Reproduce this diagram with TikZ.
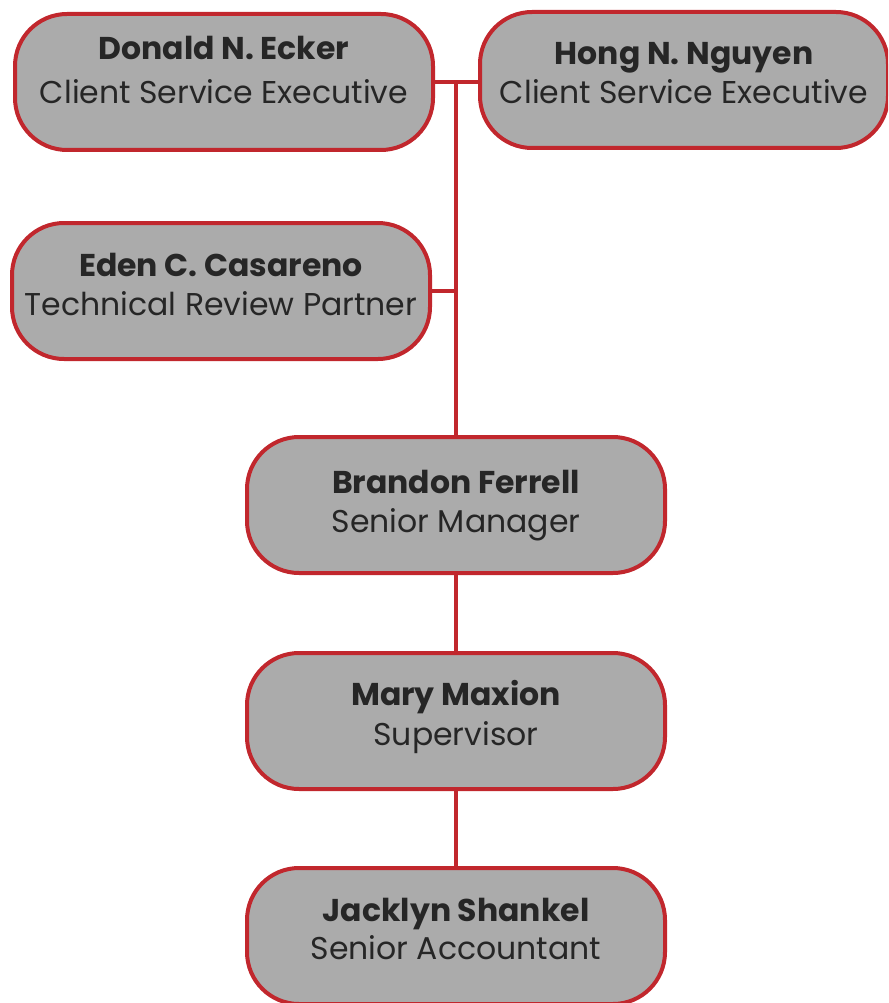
\documentclass[tikz,border=0pt]{standalone}
\usepackage{fontspec}
\setmainfont{Poppins}
\definecolor{boxred}{HTML}{C1272D}
\definecolor{boxgray}{HTML}{ABABAB}
\definecolor{txt}{HTML}{262626}
\newcommand{\who}[4]{\raisebox{#1}[\height][\depth]{\begin{tabular}{@{}c@{}}\textbf{#3}\\[#2]#4\end{tabular}}}
\begin{document}
\begin{tikzpicture}[x=1pt,y=1pt,
  person/.style={draw=boxred, line width=4pt, fill=boxgray, rounded corners=52pt,
    minimum width=418pt, minimum height=136pt, align=center, text=txt,
    font=\fontsize{31.5}{39}\selectfont, inner sep=0pt},
  link/.style={draw=boxred, line width=4.5pt}]
\useasboundingbox (0,0) rectangle (888,-1003);
\clip (0,0) rectangle (888,-1003);
\node[person] (d) at (224,-82) {\who{8pt}{5pt}{Donald N. Ecker}{Client Service Executive}};
\node[person, minimum width=408pt] (h) at (684,-80) {\who{4pt}{0pt}{Hong N. Nguyen}{Client Service Executive}};
\node[person] (e) at (221,-291) {\who{3pt}{0pt}{Eden C. Casareno}{Technical Review Partner}};
\node[person] (b) at (456,-505) {\who{0pt}{0pt}{Brandon Ferrell}{Senior Manager}};
\node[person] (m) at (456,-721) {\who{3pt}{1pt}{Mary Maxion}{Supervisor}};
\node[person] (k) at (456,-936) {\who{3.5pt}{-1pt}{Jacklyn Shankel}{Senior Accountant}};
\coordinate (j) at (b.north |- d.east);
\draw[link] (d.east) -- (d.east -| h.west);
\draw[link] (j) -- (b.north);
\draw[link] (e.east) -- (e.east -| b.north);
\draw[link] (b.south) -- (m.north);
\draw[link] (m.south) -- (k.north);
\end{tikzpicture}
\end{document}
